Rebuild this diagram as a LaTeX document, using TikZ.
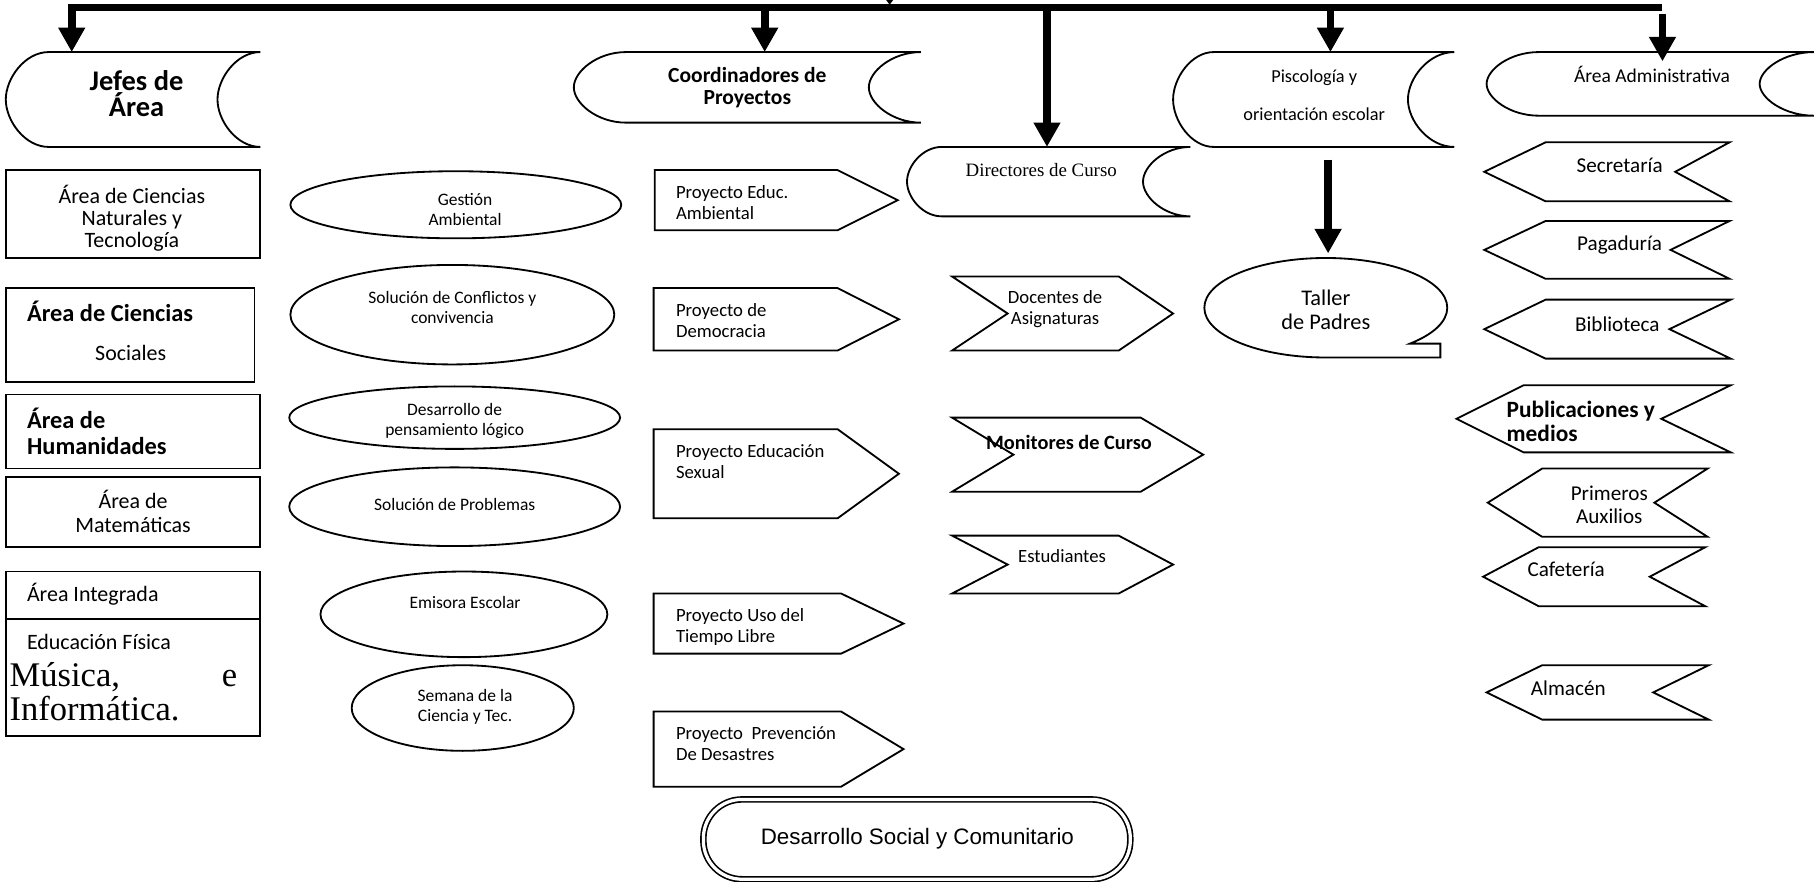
\documentclass[tikz,border=0pt]{standalone}
\usepackage{fontspec}
\setmainfont{Carlito}
\newfontfamily\romana{Liberation Serif}
\newfontfamily\arialf{Liberation Sans}
\usetikzlibrary{arrows.meta}

\tikzset{
  forma/.style={draw,line width=0.9pt,line join=miter},
  flecha/.style={line width=3.8pt,line join=miter,-{Triangle[width=12.5pt,length=12pt]}},
  doble/.style={draw,double,double distance=1.6pt,line width=0.8pt,rounded corners=19pt},
  letraChica/.style={inner sep=0pt,align=center,font=\fontsize{8.6}{9.7}\selectfont},
  letraMedia/.style={inner sep=0pt,align=center,font=\fontsize{9.2}{10.2}\selectfont},
  letraNormal/.style={inner sep=0pt,align=center,font=\fontsize{10.8}{10.8}\selectfont},
  letraAdm/.style={inner sep=0pt,align=center,font=\fontsize{10.4}{11.4}\selectfont},
  letraNegra/.style={inner sep=0pt,align=left,font=\fontsize{12}{12.5}\selectfont\bfseries},
  letraTitulo/.style={inner sep=0pt,align=center,font=\fontsize{14}{13}\selectfont\bfseries},
  letraRomana/.style={inner sep=0pt,font=\fontsize{9.3}{10}\selectfont\romana},
  letraArial/.style={inner sep=0pt,font=\fontsize{11}{13}\selectfont\arialf}
}

\begin{document}
\begin{tikzpicture}[x=0.02cm,y=-0.02cm]
  \useasboundingbox (0,0) rectangle (1568,762);

  % puntos de las flechas
  \coordinate (barraFin) at (1437,6.5);
  \coordinate (esquina) at (62,6.5);
  \coordinate (jefesN) at (62,45);
  \coordinate (coordB) at (661,6.5);
  \coordinate (coordN) at (661,45);
  \coordinate (direcB) at (905,6.5);
  \coordinate (direcN) at (905,127);
  \coordinate (psicoB) at (1150,6.5);
  \coordinate (psicoN) at (1150,45);
  \coordinate (adminB) at (1437,12);
  \coordinate (adminN) at (1437,53);
  \coordinate (psicoS) at (1148,138);
  \coordinate (tallerN) at (1148,219);

  % flechas
  \fill (766,0) -- (772,0) -- (769,4) -- cycle;
  \draw[flecha] (barraFin) -- (esquina) -- (jefesN);
  \draw[flecha] (coordB) -- (coordN);
  \draw[flecha] (direcB) -- (direcN);
  \draw[flecha] (psicoB) -- (psicoN);
  \draw[flecha] (adminB) -- (adminN);
  \draw[flecha] (psicoS) -- (tallerN);

  % encabezados
  \foreach \xa/\xb/\ya/\yb/\dl/\dr in {5/225/45/127/37/37, 496/796/45/106/45/45,
      784/1029/127/187/30/41, 1014/1257/45/127/35/40, 1285/1568/45/100/45/47}
    \draw[forma] ({\xa+\dl},\ya) -- (\xb,\ya)
      .. controls ({\xb-0.552*\dr},\ya) and ({\xb-\dr},{\ya+0.276*(\yb-\ya)}) .. ({\xb-\dr},{0.5*(\ya+\yb)})
      .. controls ({\xb-\dr},{\yb-0.276*(\yb-\ya)}) and ({\xb-0.552*\dr},\yb) .. (\xb,\yb)
      -- ({\xa+\dl},\yb)
      .. controls ({\xa+0.448*\dl},\yb) and (\xa,{\yb-0.276*(\yb-\ya)}) .. (\xa,{0.5*(\ya+\yb)})
      .. controls (\xa,{\ya+0.276*(\yb-\ya)}) and ({\xa+0.448*\dl},\ya) .. cycle;

  % jefes de area
  \foreach \xb/\ya/\yb in {225/147/223, 220/249/330, 225/341/405, 225/412/473, 225/494/535, 225/535/636}
    \draw[forma] (5,\ya) rectangle (\xb,\yb);

  % proyectos en elipses
  \foreach \cx/\cy/\rx/\ry in {394/177/143/29, 391/272/140/43, 393/361/143/27,
      393/438/143/34, 401/531/124/37, 400/612/96/37}
    \draw[forma] (\cx,\cy) ellipse [x radius=\rx, y radius=\ry];

  % flechas hacia la derecha (proyectos y docentes)
  \foreach \xl/\xn/\xr/\xt/\ya/\yb in {566/566/724/776/147/199, 565/565/724/777/249/303,
      565/565/724/777/371/448, 565/565/727/781/513/565, 565/565/727/781/615/680,
      823/871/967/1014/239/303, 823/876/986/1040/361/425, 823/871/967/1014/463/513}
    \draw[forma] (\xl,\ya) -- (\xr,\ya) -- (\xt,{0.5*(\ya+\yb)}) -- (\xr,\yb)
      -- (\xl,\yb) -- (\xn,{0.5*(\ya+\yb)}) -- cycle;

  % flechas hacia la izquierda (area administrativa)
  \foreach \xt/\xl/\xr/\xn/\ya/\yb in {1283/1336/1495/1448/123/174, 1283/1336/1495/1444/191/241,
      1283/1336/1496/1443/259/310, 1259/1317/1496/1436/333/391, 1286/1333/1476/1430/405/464,
      1282/1330/1474/1426/473/524, 1285/1333/1477/1429/575/622}
    \draw[forma] (\xt,{0.5*(\ya+\yb)}) -- (\xl,\ya) -- (\xr,\ya) -- (\xn,{0.5*(\ya+\yb)})
      -- (\xr,\yb) -- (\xl,\yb) -- cycle;

  % taller de padres
  \draw[forma] (1146,309) arc[start angle=90, end angle=406.1, x radius=105, y radius=43]
    -- (1245,297) -- (1245,309) -- cycle;

  % desarrollo social
  \draw[doble] (608,691) rectangle (977,760);

  % textos
  \node[letraTitulo] (jefes) at (118,81) {Jefes de\\Área};
  \node[letraTitulo,font=\fontsize{10.6}{11}\selectfont\bfseries] (coord) at (646,76) {Coordinadores de\\Proyectos};
  \node[letraRomana] (direc) at (900,147) {Directores de Curso};
  \node[letraChica,font=\fontsize{9}{9.7}\selectfont] (psico) at (1136,82) {Piscología y\\[9pt]orientación escolar};
  \node[letraMedia,font=\fontsize{9.6}{10.2}\selectfont] (admin) at (1428,64) {Área Administrativa};

  \node[letraNormal] (naturales) at (114,189) {Área de Ciencias\\Naturales y\\Tecnología};
  \node[letraNegra,anchor=west] (sociales1) at (23,269) {Área de Ciencias};
  \node[letraNormal] (sociales2) at (113,305) {Sociales};
  \node[letraNegra,anchor=west] (humanidades) at (23,373) {Área de\\Humanidades};
  \node[letraNormal,font=\fontsize{10.8}{11.4}\selectfont] (mate) at (115,442) {Área de\\Matemáticas};
  \node[letraNormal,anchor=west] (integrada) at (23,514) {Área Integrada};
  \node[letraNormal,anchor=west] (fisica) at (23,555) {Educación Física};
  \node[inner sep=0pt,anchor=west,text width=112pt,align=left,font=\fontsize{17}{16.5}\selectfont\romana]
    (musica) at (8,598) {Música,\hskip0pt plus1fill e\\Informática.};

  \node[letraChica] (gestion) at (402,181) {Gestión\\Ambiental};
  \node[letraChica] (conflictos) at (391,266) {Solución de Conflictos y\\convivencia};
  \node[letraChica] (pensamiento) at (393,364) {Desarrollo de\\pensamiento lógico};
  \node[letraChica] (problemas) at (393,436) {Solución de Problemas};
  \node[letraChica] (emisora) at (402,521) {Emisora Escolar};
  \node[letraChica] (semana) at (402,611) {Semana de la\\Ciencia y Tec.};

  \node[letraMedia,anchor=west,align=left] (ambiental) at (584,175) {Proyecto Educ.\\Ambiental};
  \node[letraMedia,anchor=west,align=left] (democracia) at (584,277) {Proyecto de\\Democracia};
  \node[letraMedia,anchor=west,align=left] (sexual) at (584,399) {Proyecto Educación\\Sexual};
  \node[letraMedia,anchor=west,align=left] (tiempo) at (584,542) {Proyecto Uso del\\Tiempo Libre};
  \node[letraMedia,anchor=west,align=left] (desastres) at (584,643) {Proyecto\ \ Prevención\\De Desastres};

  \node[letraMedia] (docentes) at (912,267) {Docentes de\\Asignaturas};
  \node[letraMedia,font=\fontsize{10}{11}\selectfont\bfseries] (monitores) at (924,382) {Monitores de Curso};
  \node[letraMedia] (estudiantes) at (918,481) {Estudiantes};

  \node[letraNormal,font=\fontsize{11}{11.6}\selectfont] (taller) at (1146,268) {Taller\\de Padres};

  \node[letraAdm] (secretaria) at (1400,143) {Secretaría};
  \node[letraAdm] (pagaduria) at (1400,212) {Pagaduría};
  \node[letraAdm] (biblioteca) at (1398,280) {Biblioteca};
  \node[letraNegra,anchor=west,font=\fontsize{11.5}{12}\selectfont\bfseries] (publicaciones) at (1302,364) {Publicaciones y\\medios};
  \node[letraAdm] (primeros) at (1391,436) {Primeros\\Auxilios};
  \node[letraAdm,anchor=west] (cafeteria) at (1320,492) {Cafetería};
  \node[letraAdm,anchor=west] (almacen) at (1323,595) {Almacén};

  \node[letraArial] (social) at (793,725) {Desarrollo Social y Comunitario};
\end{tikzpicture}
\end{document}
